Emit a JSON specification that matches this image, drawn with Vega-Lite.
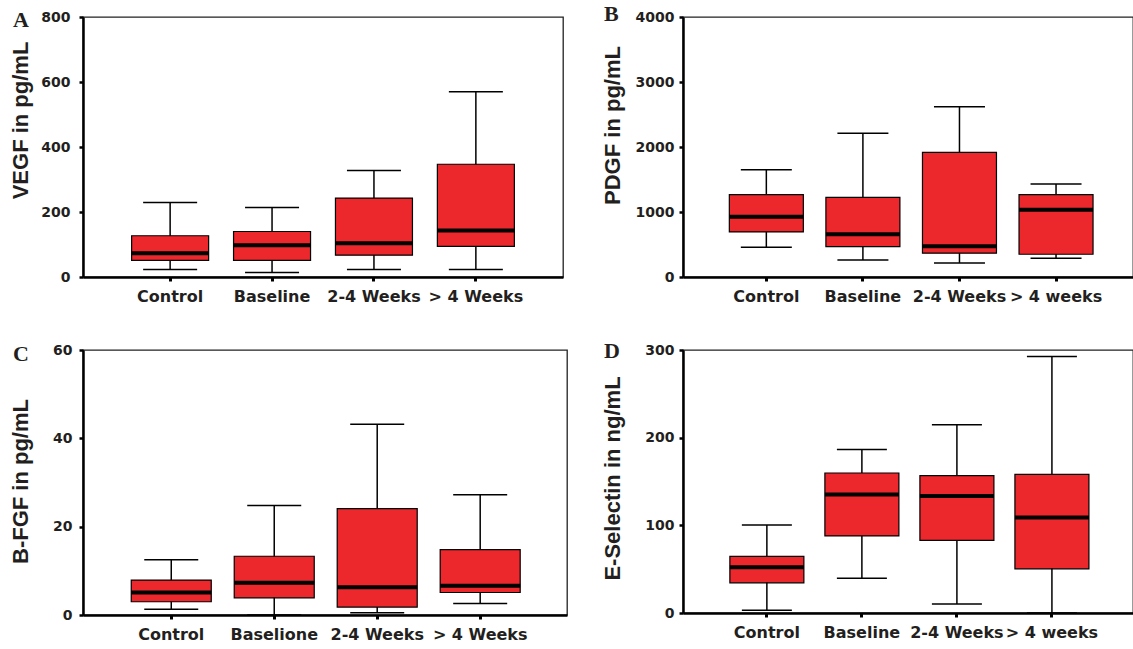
{
  "$schema": "https://vega.github.io/schema/vega-lite/v6.json",
  "background": "white",
  "padding": {"left": 8, "top": 2, "right": 0, "bottom": 0},
  "spacing": 34,
  "datasets": {
    "A": [
      {"group": "Control", "lower": 23, "q1": 51, "median": 73, "q3": 127, "upper": 229},
      {"group": "Baseline", "lower": 14, "q1": 51, "median": 98, "q3": 140, "upper": 214},
      {"group": "2-4 Weeks", "lower": 23, "q1": 67, "median": 104, "q3": 243, "upper": 328},
      {"group": "> 4 Weeks", "lower": 23, "q1": 94, "median": 143, "q3": 347, "upper": 570}
    ],
    "B": [
      {"group": "Control", "lower": 456, "q1": 694, "median": 928, "q3": 1267, "upper": 1651},
      {"group": "Baseline", "lower": 261, "q1": 467, "median": 656, "q3": 1226, "upper": 2213},
      {"group": "2-4 Weeks", "lower": 217, "q1": 367, "median": 472, "q3": 1918, "upper": 2619},
      {"group": "> 4 weeks", "lower": 289, "q1": 350, "median": 1036, "q3": 1267, "upper": 1431}
    ],
    "C": [
      {"group": "Control", "lower": 1.3, "q1": 3.0, "median": 5.1, "q3": 7.9, "upper": 12.5},
      {"group": "Baselione", "lower": 0, "q1": 3.9, "median": 7.3, "q3": 13.3, "upper": 24.8},
      {"group": "2-4 Weeks", "lower": 0.5, "q1": 1.8, "median": 6.3, "q3": 24.1, "upper": 43.2},
      {"group": "> 4 Weeks", "lower": 2.6, "q1": 5.1, "median": 6.6, "q3": 14.8, "upper": 27.2}
    ],
    "D": [
      {"group": "Control", "lower": 3, "q1": 34.4, "median": 52.3, "q3": 64.6, "upper": 100.5},
      {"group": "Baseline", "lower": 39.7, "q1": 87.9, "median": 135.3, "q3": 159.7, "upper": 186.5},
      {"group": "2-4 Weeks", "lower": 10.3, "q1": 82.9, "median": 133.4, "q3": 156.7, "upper": 214.7},
      {"group": "> 4 weeks", "lower": 0, "q1": 50.4, "median": 108.9, "q3": 158.2, "upper": 292.7}
    ]
  },
  "config": {
    "view": {"stroke": "#222222", "strokeWidth": 1.3},
    "tick": {"opacity": 1},
    "axis": {
      "grid": false,
      "domainColor": "black",
      "domainWidth": 2.5,
      "tickColor": "black",
      "labelColor": "#231f20",
      "labelFont": "DejaVu Sans",
      "labelFontWeight": "bold",
      "titleColor": "#231f20"
    },
    "axisX": {"labelFontSize": 16, "labelAngle": 0, "tickSize": 4, "tickWidth": 3, "labelPadding": 7, "title": null},
    "axisY": {"labelFontSize": 14, "format": "d", "tickSize": 4, "tickWidth": 2.5, "titleFont": "Liberation Sans", "titleFontSize": 22, "titleFontWeight": "bold", "titleAngle": -90, "titleAlign": "center", "titleBaseline": "bottom"},
    "title": {"anchor": "start", "frame": "group", "font": "Liberation Serif", "fontSize": 22, "fontWeight": "bold", "color": "#231f20", "offset": 0, "baseline": "alphabetic"}
  },
  "vconcat": [
    {
      "spacing": 36,
      "hconcat": [
        {
          "width": 480, "height": 260,
          "data": {"name": "A"},
          "title": {"text": "A", "dx": -70, "dy": 26},
          "encoding": {"x": {"field": "group", "type": "nominal", "sort": null, "scale": {"paddingInner": 0, "paddingOuter": 0.355, "align": 0.5}}},
          "layer": [
            {"mark": {"type": "rule", "color": "black", "strokeWidth": 1.5},
             "encoding": {"y": {"field": "lower", "type": "quantitative", "title": "VEGF in pg/mL", "scale": {"domain": [0, 800], "nice": false},
               "axis": {"values": [0, 200, 400, 600, 800], "titleX": -51, "titleY": 103, "labelPadding": 9}},
               "y2": {"field": "upper"}}},
            {"mark": {"type": "tick", "color": "black", "thickness": 1.5, "size": 54}, "encoding": {"y": {"field": "lower", "type": "quantitative", "title": "VEGF in pg/mL"}}},
            {"mark": {"type": "tick", "color": "black", "thickness": 1.5, "size": 54}, "encoding": {"y": {"field": "upper", "type": "quantitative", "title": "VEGF in pg/mL"}}},
            {"mark": {"type": "bar", "width": 77, "fill": "#EC282D", "stroke": "black", "strokeWidth": 1.2}, "encoding": {"y": {"field": "q1", "type": "quantitative", "title": "VEGF in pg/mL"}, "y2": {"field": "q3"}}},
            {"mark": {"type": "tick", "color": "black", "thickness": 4, "size": 77}, "encoding": {"y": {"field": "median", "type": "quantitative", "title": "VEGF in pg/mL"}}}
          ]
        },
        {
          "width": 450, "height": 260,
          "data": {"name": "B"},
          "title": {"text": "B", "dx": -79, "dy": 20},
          "encoding": {"x": {"field": "group", "type": "nominal", "sort": null, "scale": {"paddingInner": 0, "paddingOuter": 0.33, "align": 0.55}}},
          "layer": [
            {"mark": {"type": "rule", "color": "black", "strokeWidth": 1.5},
             "encoding": {"y": {"field": "lower", "type": "quantitative", "title": "PDGF in pg/mL", "scale": {"domain": [0, 4000], "nice": false},
               "axis": {"values": [0, 1000, 2000, 3000, 4000], "titleX": -59, "titleY": 108, "labelPadding": 5}},
               "y2": {"field": "upper"}}},
            {"mark": {"type": "tick", "color": "black", "thickness": 1.5, "size": 51}, "encoding": {"y": {"field": "lower", "type": "quantitative", "title": "PDGF in pg/mL"}}},
            {"mark": {"type": "tick", "color": "black", "thickness": 1.5, "size": 51}, "encoding": {"y": {"field": "upper", "type": "quantitative", "title": "PDGF in pg/mL"}}},
            {"mark": {"type": "bar", "width": 74, "fill": "#EC282D", "stroke": "black", "strokeWidth": 1.2}, "encoding": {"y": {"field": "q1", "type": "quantitative", "title": "PDGF in pg/mL"}, "y2": {"field": "q3"}}},
            {"mark": {"type": "tick", "color": "black", "thickness": 4, "size": 74}, "encoding": {"y": {"field": "median", "type": "quantitative", "title": "PDGF in pg/mL"}}}
          ]
        }
      ]
    },
    {
      "spacing": 32,
      "hconcat": [
        {
          "width": 484, "height": 265,
          "data": {"name": "C"},
          "title": {"text": "C", "dx": -70, "dy": 27},
          "encoding": {"x": {"field": "group", "type": "nominal", "sort": null, "scale": {"paddingInner": 0, "paddingOuter": 0.35, "align": 0.51}}},
          "layer": [
            {"mark": {"type": "rule", "color": "black", "strokeWidth": 1.5},
             "encoding": {"y": {"field": "lower", "type": "quantitative", "title": "B-FGF in pg/mL", "scale": {"domain": [0, 60], "nice": false},
               "axis": {"values": [0, 20, 40, 60], "titleX": -51, "titleY": 131, "labelPadding": 7}},
               "y2": {"field": "upper"}}},
            {"mark": {"type": "tick", "color": "black", "thickness": 1.5, "size": 54}, "encoding": {"y": {"field": "lower", "type": "quantitative", "title": "B-FGF in pg/mL"}}},
            {"mark": {"type": "tick", "color": "black", "thickness": 1.5, "size": 54}, "encoding": {"y": {"field": "upper", "type": "quantitative", "title": "B-FGF in pg/mL"}}},
            {"mark": {"type": "bar", "width": 80, "fill": "#EC282D", "stroke": "black", "strokeWidth": 1.2}, "encoding": {"y": {"field": "q1", "type": "quantitative", "title": "B-FGF in pg/mL"}, "y2": {"field": "q3"}}},
            {"mark": {"type": "tick", "color": "black", "thickness": 4, "size": 80}, "encoding": {"y": {"field": "median", "type": "quantitative", "title": "B-FGF in pg/mL"}}}
          ]
        },
        {
          "width": 450, "height": 263,
          "data": {"name": "D"},
          "title": {"text": "D", "dx": -79, "dy": 24},
          "encoding": {"x": {"field": "group", "type": "nominal", "sort": null, "scale": {"paddingInner": 0, "paddingOuter": 0.368, "align": 0.52}}},
          "layer": [
            {"mark": {"type": "rule", "color": "black", "strokeWidth": 1.5},
             "encoding": {"y": {"field": "lower", "type": "quantitative", "title": "E-Selectin in ng/mL", "scale": {"domain": [0, 300], "nice": false},
               "axis": {"values": [0, 100, 200, 300], "titleX": -59, "titleY": 128, "labelPadding": 5}},
               "y2": {"field": "upper"}}},
            {"mark": {"type": "tick", "color": "black", "thickness": 1.5, "size": 50}, "encoding": {"y": {"field": "lower", "type": "quantitative", "title": "E-Selectin in ng/mL"}}},
            {"mark": {"type": "tick", "color": "black", "thickness": 1.5, "size": 50}, "encoding": {"y": {"field": "upper", "type": "quantitative", "title": "E-Selectin in ng/mL"}}},
            {"mark": {"type": "bar", "width": 74, "fill": "#EC282D", "stroke": "black", "strokeWidth": 1.2}, "encoding": {"y": {"field": "q1", "type": "quantitative", "title": "E-Selectin in ng/mL"}, "y2": {"field": "q3"}}},
            {"mark": {"type": "tick", "color": "black", "thickness": 4, "size": 74}, "encoding": {"y": {"field": "median", "type": "quantitative", "title": "E-Selectin in ng/mL"}}}
          ]
        }
      ]
    }
  ]
}
